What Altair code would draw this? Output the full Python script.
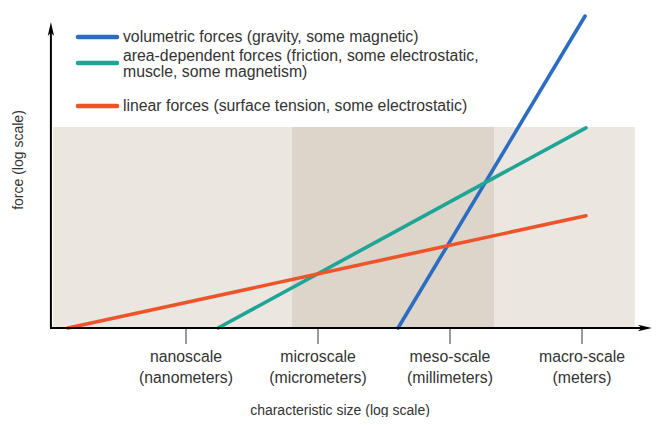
import altair as alt
import pandas as pd

# ---------------- data ----------------
series_keys = ["volumetric", "area", "linear"]
series_labels = [
    "volumetric forces (gravity, some magnetic)",
    "area-dependent forces (friction, some electrostatic,\nmuscle, some magnetism)",
    "linear forces (surface tension, some electrostatic)",
]
series_colors = ["#2c6dc2", "#1ea596", "#ee5429"]

# x: characteristic size, log10(metres); y: force, relative log units
vol_x = [-4.18, 0.07]
vol_y = [0.0, 7.09]
area_x = [-8.27, 0.09]
area_y = [0.0, 4.55]
lin_x = [-11.68, 0.09]
lin_y = [0.0, 2.55]

tick_pos = [-9, -6, -3, 0]
tick_labels = [
    "nanoscale\n(nanometers)",
    "microscale\n(micrometers)",
    "meso-scale\n(millimeters)",
    "macro-scale\n(meters)",
]

region_x = [-12.02, 1.2]
region_y = [0.0, 4.57]
meso_x = [-6.59, -2.0]

x_title = "characteristic size (log scale)"
y_title = "force (log scale)"

# ---------------- layout helpers (in data units) ----------------
X_DOM = [-13.045, 1.591]
Y_DOM = [-2.0227, 7.2727]
AX_X = -12.07          # position of the vertical axis
AX_TOP = 6.795         # centre of the upward arrow head
AX_RIGHT = 1.43        # centre of the right arrow head
FONT = "Liberation Sans"
TXT = "#333333"

xs = alt.Scale(domain=X_DOM, nice=False, zero=False)
ys = alt.Scale(domain=Y_DOM, nice=False, zero=False)
col = alt.Scale(domain=series_keys, range=series_colors)


def X(f="x"):
    return alt.X(f"{f}:Q", scale=xs, axis=None)


def Y(f="y"):
    return alt.Y(f"{f}:Q", scale=ys, axis=None)


# lines
rows = []
for k, xx, yy in zip(series_keys, [vol_x, area_x, lin_x], [vol_y, area_y, lin_y]):
    for a, b in zip(xx, yy):
        rows.append({"series": k, "x": a, "y": b})
lines_df = pd.DataFrame(rows)

bg_df = pd.DataFrame({"x": [region_x[0]], "x2": [region_x[1]], "y": [region_y[0]], "y2": [region_y[1]]})
meso_df = pd.DataFrame({"x": [meso_x[0]], "x2": [meso_x[1]], "y": [region_y[0]], "y2": [region_y[1]]})

bg = alt.Chart(bg_df).mark_rect(color="#ebe7e0").encode(x=X(), x2="x2", y=Y(), y2="y2")
meso = alt.Chart(meso_df).mark_rect(color="#ddd5ca").encode(x=X(), x2="x2", y=Y(), y2="y2")

lines = alt.Chart(lines_df).mark_line(strokeWidth=3.6, strokeCap="round").encode(
    x=X(), y=Y(),
    color=alt.Color("series:N", scale=col, legend=None),
    detail="series:N",
)

# axes
yaxis_df = pd.DataFrame({"x": [AX_X], "y": [0.0], "y2": [AX_TOP]})
xaxis_df = pd.DataFrame({"x": [AX_X - 0.02], "x2": [AX_RIGHT], "y": [0.0]})
yaxis = alt.Chart(yaxis_df).mark_rule(color="black", strokeWidth=2).encode(x=X(), y=Y(), y2="y2")
xaxis = alt.Chart(xaxis_df).mark_rule(color="black", strokeWidth=2).encode(x=X(), x2="x2", y=Y())

arrow_path = "M0,-1L0.45,1L0,0.5L-0.45,1Z"
arrows_df = pd.DataFrame({"x": [AX_X, AX_RIGHT], "y": [AX_TOP, 0.0], "angle": [0, 90]})
arrows = alt.Chart(arrows_df).mark_point(
    shape=arrow_path, filled=True, color="black", size=196, opacity=1
).encode(x=X(), y=Y(), angle=alt.Angle("angle:Q", scale=None))

ticks_df = pd.DataFrame({"x": tick_pos, "y": [0.0] * 4, "y2": [-0.364] * 4, "label": tick_labels})
ticks = alt.Chart(ticks_df).mark_rule(color="#7a7a7a", strokeWidth=1.5).encode(x=X(), y=Y(), y2="y2")
tick_text = alt.Chart(ticks_df).mark_text(
    lineBreak="\n", baseline="middle", align="center", font=FONT, fontSize=15.8, lineHeight=21, color=TXT
).encode(x=X(), y=alt.Y("ty:Q", scale=ys, axis=None), text="label:N").transform_calculate(ty="-0.66")

titles_df = pd.DataFrame({
    "x": [-5.5, -12.795], "y": [-1.886, 3.818], "t": [x_title, y_title], "a": [0, 270]
})
titles = alt.Chart(titles_df).mark_text(
    baseline="middle", align="center", font=FONT, fontSize=14, color=TXT
).encode(x=X(), y=Y(), text="t:N", angle=alt.Angle("a:Q", scale=None))

# legend (drawn as annotation)
leg_df = pd.DataFrame({
    "series": series_keys,
    "label": series_labels,
    "x": [-11.455] * 3,
    "x2": [-10.568] * 3,
    "tx": [-10.432] * 3,
    "y": [6.614, 6.023, 5.045],
    "ty": [6.614, 6.182, 5.045],
})
leg_lines = alt.Chart(leg_df).mark_rule(strokeWidth=4.5, strokeCap="round").encode(
    x=X(), x2="x2", y=Y(), color=alt.Color("series:N", scale=col, legend=None)
)
leg_text = alt.Chart(leg_df).mark_text(
    lineBreak="\n", baseline="middle", align="left", font=FONT, fontSize=15.8, lineHeight=16, color=TXT
).encode(x=X("tx"), y=Y("ty"), text="label:N")

chart = alt.layer(
    bg, meso, lines, ticks, xaxis, yaxis, arrows, tick_text, titles, leg_lines, leg_text
).properties(
    width=644, height=409, padding=0, autosize=alt.AutoSizeParams(type="none"),
    background="white",
).configure_view(stroke=None)

chart.save("out.html", embed_options={"renderer": "svg", "actions": False})
